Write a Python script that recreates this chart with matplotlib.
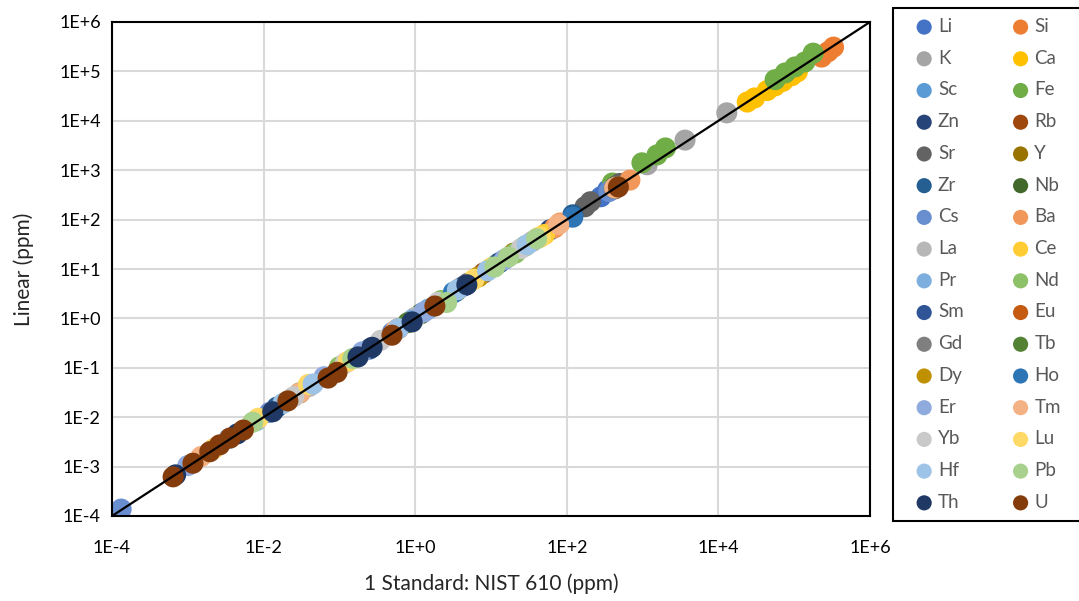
import numpy as np
import matplotlib
matplotlib.use('Agg')
import matplotlib.pyplot as plt
from matplotlib.patches import Rectangle

plt.rcParams['font.family'] = ['Lato', 'DejaVu Sans']

elements = ['Li', 'Si', 'K', 'Ca', 'Sc', 'Fe', 'Zn', 'Rb', 'Sr', 'Y', 'Zr', 'Nb',
            'Cs', 'Ba', 'La', 'Ce', 'Pr', 'Nd', 'Sm', 'Eu', 'Gd', 'Tb', 'Dy', 'Ho',
            'Er', 'Tm', 'Yb', 'Lu', 'Hf', 'Pb', 'Th', 'U']

colors = ['#4472c4', '#ed7d31', '#a5a5a5', '#ffc000', '#5b9bd5', '#70ad47',
          '#264478', '#9e480e', '#636363', '#997300', '#255e91', '#43682b',
          '#698ed0', '#f1975a', '#b7b7b7', '#ffcd33', '#7cafdd', '#8cc168',
          '#2f5597', '#c55a11', '#7f7f7f', '#548235', '#bf9000', '#2e75b6',
          '#8faadc', '#f4b183', '#c9c9c9', '#ffd966', '#9dc3e6', '#a9d18e',
          '#1f3864', '#843c0c']

# concentrations from the one-standard (NIST 610) calibration, ppm
nist610 = [
    [282, 347],                                               # Li
    [2.3e5, 2.8e5, 3.3e5],                                    # Si
    [1150, 3630, 1.29e4],                                     # K
    [2.4e4, 3.0e4, 4.4e4, 5.6e4, 7.1e4, 9.3e4, 1.1e5],        # Ca
    [420, 3.2],                                               # Sc
    [400, 980, 1550, 2000, 5.6e4, 7.6e4, 1.02e5, 1.38e5, 1.78e5],  # Fe
    [440, 60],                                                # Zn
    [430, 8],                                                 # Rb
    [174, 205, 500],                                          # Sr
    [450, 20],                                                # Y
    [120, 440, 0.015],                                        # Zr
    [420, 3.5, 0.03, 1.2],                                    # Nb
    [1.32e-4, 360, 0.012, 0.5],                               # Cs
    [69, 81, 680],                                            # Ba
    [440, 1.0, 0.04, 4, 35],                                  # La
    [42, 51, 450],                                            # Ce
    [430, 0.9, 0.008, 1.5],                                   # Pr
    [12, 21, 28, 430, 0.1, 2.2],                              # Nd
    [450, 4.5, 0.25, 13],                                     # Sm
    [440, 0.6],                                               # Eu
    [420, 5],                                                 # Gd
    [440, 0.8],                                               # Tb
    [6.8, 430],                                               # Dy
    [3.2, 120],                                               # Ho
    [1.0e-3, 0.063, 1.3, 430, 0.0035, 0.2, 15],               # Er
    [0.03, 78, 430, 0.0015, 0.55],                            # Tm
    [0.025, 2.0, 25, 0.12, 0.35],                             # Yb
    [0.0085, 0.039, 10, 45, 0.0022, 0.13, 6],                 # Lu
    [0.018, 3.6, 9, 0.045, 0.6, 30],                          # Hf
    [0.0072, 2.6, 11.2, 17, 0.15, 40],                        # Pb
    [6.9e-4, 0.0045, 0.0132, 0.176, 0.27, 0.91, 4.8],         # Th
    [6.4e-4, 1.17e-3, 1.95e-3, 2.63e-3, 3.63e-3, 5.4e-3, 0.0209,
     0.071, 0.093, 0.494, 1.82, 479],                         # U
]

# concentrations from the linear calibration, ppm
linear = [
    [290, 400],
    [1.95e5, 2.5e5, 3.1e5],
    [1290, 4070, 1.45e4],
    [2.4e4, 2.9e4, 4.1e4, 5.1e4, 6.3e4, 8.2e4, 9.8e4],
    [450, 3.4],
    [550, 1410, 2040, 2820, 6.8e4, 9.3e4, 1.23e5, 1.55e5, 2.34e5],
    [470, 62],
    [420, 8.3],
    [182, 230, 540],
    [460, 21],
    [125, 450, 0.016],
    [440, 3.6, 0.031, 1.25],
    [1.38e-4, 370, 0.0125, 0.52],
    [68, 85, 630],
    [450, 1.05, 0.042, 4.2, 36],
    [43, 50, 460],
    [440, 0.92, 0.0085, 1.55],
    [12.5, 21, 29, 440, 0.105, 2.3],
    [460, 4.6, 0.24, 13.5],
    [450, 0.62],
    [430, 5.2],
    [450, 0.82],
    [6.9, 440],
    [3.3, 112],
    [1.05e-3, 0.066, 1.35, 440, 0.0037, 0.21, 15.5],
    [0.031, 80, 440, 0.0016, 0.57],
    [0.026, 2.1, 26, 0.125, 0.36],
    [0.0095, 0.046, 10.5, 44, 0.0023, 0.135, 6.2],
    [0.019, 3.8, 9.2, 0.047, 0.62, 31],
    [0.0079, 2.1, 11, 17.5, 0.155, 41],
    [6.8e-4, 0.0046, 0.0129, 0.166, 0.26, 0.85, 4.8],
    [6.2e-4, 1.17e-3, 2.0e-3, 2.75e-3, 3.8e-3, 5.5e-3, 0.0214,
     0.062, 0.081, 0.457, 1.78, 457],
]

W, H = 1079, 601
fig = plt.figure(figsize=(W / 100, H / 100), dpi=100)
ax = fig.add_axes([112 / W, 85 / H, 758 / W, 494 / H])

handles = []
for name, col, xs, ys in zip(elements, colors, nist610, linear):
    h = ax.scatter(xs, ys, s=230, color=col, edgecolors='none', label=name, zorder=2)
    handles.append(h)

# 1:1 line
ax.plot([1e-4, 1e6], [1e-4, 1e6], color='black', lw=1.6, zorder=3)

ax.set_xscale('log')
ax.set_yscale('log')
ax.set_xlim(1e-4, 1e6)
ax.set_ylim(1e-4, 1e6)

xexp = np.arange(-4, 7, 2)
yexp = np.arange(-4, 7, 1)
ax.set_xticks(10.0 ** xexp)
ax.set_xticklabels([f'1E{e:+d}' for e in xexp])
ax.set_yticks(10.0 ** yexp)
ax.set_yticklabels([f'1E{e:+d}' for e in yexp])
ax.minorticks_off()
ax.tick_params(length=0, labelsize=13, colors='black')
ax.tick_params(axis='x', pad=17)
ax.tick_params(axis='y', pad=8)

ax.grid(True, color='#d9d9d9', lw=1.5)
ax.set_axisbelow(True)
for sp in ax.spines.values():
    sp.set_color('black')
    sp.set_linewidth(1.5)

ax.set_xlabel('1 Standard: NIST 610 (ppm)', fontsize=15, color='#262626', labelpad=13)
ax.set_ylabel('Linear (ppm)', fontsize=15, color='#262626', labelpad=18)

# legend box
fig.patches.append(Rectangle((893 / W, 1 - 521 / H), 190 / W, 513 / H,
                             transform=fig.transFigure, facecolor='white',
                             edgecolor='black', lw=1.5, zorder=0))

# legend filled row by row: left column gets the even entries
order = list(range(0, len(elements), 2)) + list(range(1, len(elements), 2))
leg = fig.legend([handles[i] for i in order], [elements[i] for i in order],
                 ncol=2, loc='upper left', bbox_to_anchor=(916 / W, 1 - 18 / H),
                 fontsize=13.5, frameon=False, markerscale=0.72, handlelength=0.87,
                 handletextpad=0.3, columnspacing=2.6, labelspacing=0.785,
                 borderpad=0, borderaxespad=0)
for t in leg.get_texts():
    t.set_color('#595959')

fig.savefig('out.png', dpi=100)
